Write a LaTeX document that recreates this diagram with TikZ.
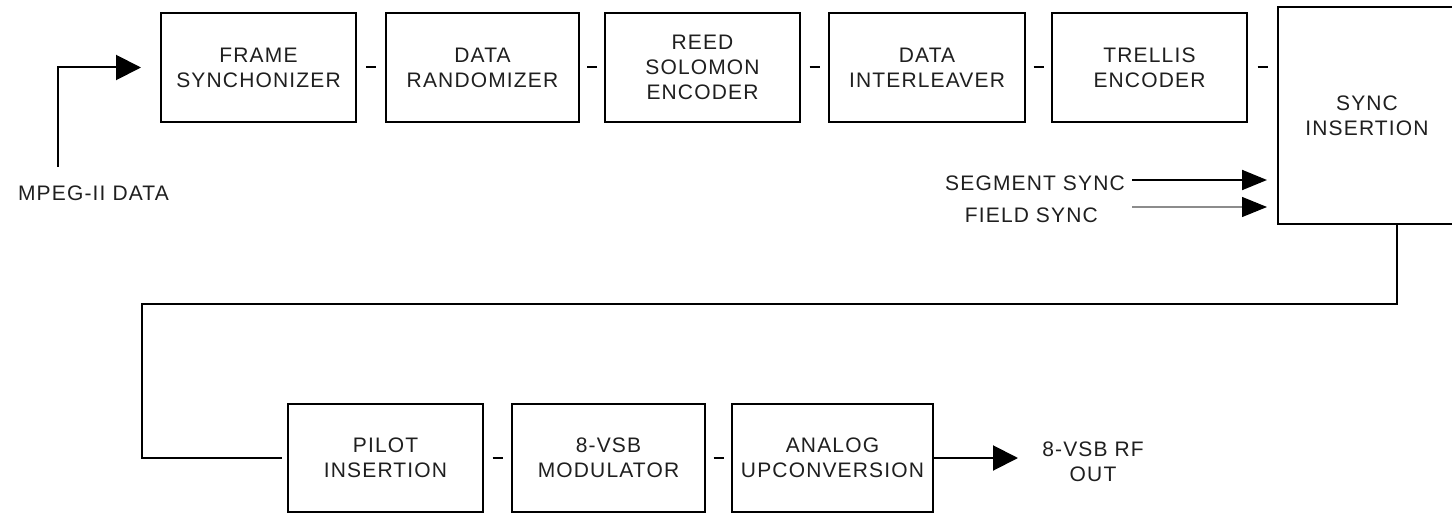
\documentclass[tikz,border=0pt]{standalone}
\usepackage{fontspec}
\setmainfont[LetterSpace=5.5]{Liberation Sans}
\usetikzlibrary{arrows.meta,calc}
\begin{document}
\begin{tikzpicture}[x=1pt,y=-1pt,
  txt/.style={font=\fontsize{21}{25}\selectfont, align=center, text=black!88, inner sep=0pt},
  blk/.style={draw, line width=2pt, rectangle, txt, minimum height=109pt},
  stub/.style={line width=2pt},
  wire/.style={line width=2pt},
  arr/.style={line width=2pt, -{Triangle[length=25pt,width=25pt]}},
  arrs/.style={line width=2pt, -{Triangle[length=25pt,width=20pt]}},
  arrg/.style={line width=1.2pt, black!45, -{Triangle[length=25pt,width=20pt,color=black]}}]
\useasboundingbox (0,0) rectangle (1452,516);
\clip (0,0) rectangle (1452,516);
\fill[white] (0,0) rectangle (1452,516);
% top row
\node[blk, minimum width=195pt] (b1) at (258.5,67.5) {FRAME\\SYNCHONIZER};
\node[blk, minimum width=193pt] (b2) at (482.5,67.5) {DATA\\RANDOMIZER};
\node[blk, minimum width=195pt] (b3) at (702.5,67.5) {REED\\SOLOMON\\ENCODER};
\node[blk, minimum width=196pt] (b4) at (927,67.5) {DATA\\INTERLEAVER};
\node[blk, minimum width=195pt] (b5) at (1149.5,67.5) {TRELLIS\\ENCODER};
\node[blk, minimum width=178pt, minimum height=217pt] (sync) at (1367,115.5) {SYNC\\INSERTION};
% bottom row
\node[blk, minimum width=195pt, minimum height=108pt] (b6) at (385.5,458) {PILOT\\INSERTION};
\node[blk, minimum width=193pt, minimum height=108pt] (b7) at (608.5,458) {8-VSB\\MODULATOR};
\node[blk, minimum width=201pt, minimum height=108pt] (b8) at (832.5,458) {ANALOG\\UPCONVERSION};
% labels
\node[txt] (mpeg) at (93.5,193) {MPEG-II DATA};
\node[txt, anchor=east] (seg) at (1125,183) {SEGMENT SYNC};
\node[txt, anchor=east] (fld) at (1098,215) {FIELD SYNC};
\node[txt] (rfout) at (1093,462) {8-VSB RF\\OUT};
% dashes between blocks
\draw[stub] ($(b1.east)!.5!(b2.west)$) ++(-5,0) -- ++(10,0);
\draw[stub] ($(b2.east)!.5!(b3.west)$) ++(-5,0) -- ++(10,0);
\draw[stub] ($(b3.east)!.5!(b4.west)$) ++(-5,0) -- ++(10,0);
\draw[stub] ($(b4.east)!.5!(b5.west)$) ++(-5,0) -- ++(10,0);
\draw[stub] ($(b5.east)!.5!(b5.east -| sync.west)$) ++(-5,0) -- ++(10,0);
\draw[stub] ($(b6.east)!.5!(b7.west)$) ++(-5,0) -- ++(10,0);
\draw[stub] ($(b7.east)!.5!(b8.west)$) ++(-5,0) -- ++(10,0);
% input
\coordinate (in) at (58,167);
\draw[arr, shorten >=19pt] (in) |- (b1.west);
% sync inputs
\coordinate (s1) at (1132,180);
\coordinate (s2) at (1132,207);
\draw[arrs, shorten >=10pt] (s1) -- (s1 -| sync.west);
\draw[arrg, shorten >=10pt] (s2) -- (s2 -| sync.west);
% return path
\coordinate (r) at (1397,0);
\coordinate (bend) at (142,304);
\draw[wire, shorten >=5pt] (sync.south -| r) |- (bend) |- (b6.west);
% output
\coordinate (out) at (1018,458);
\draw[arr] (b8.east) -- (out);
\end{tikzpicture}
\end{document}
